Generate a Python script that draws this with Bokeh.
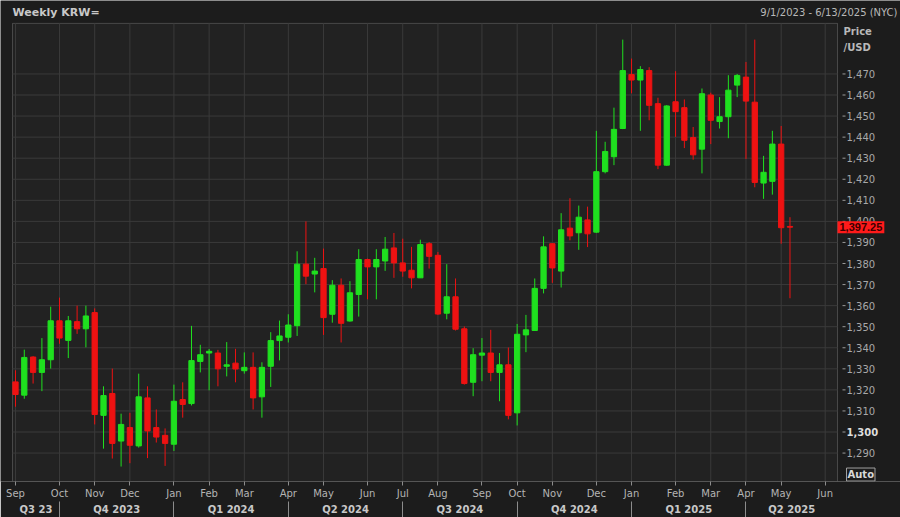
from bokeh.plotting import figure
from bokeh.models import (ColumnDataSource, FixedTicker, LinearAxis, Label, Range1d,
                          CustomJSTickFormatter, BoxAnnotation)
from bokeh.core.properties import value
from bokeh.embed import file_html
from bokeh.resources import INLINE

# ---- data (weekly USD/KRW candles, from week of 9/1/2023) ----
opens = [1323.8, 1317.5, 1335.6, 1328.3, 1334.3, 1352.8, 1343.5, 1352.4, 1349.0, 1356.7,
         1307.9, 1318.3, 1295.7, 1302.1, 1293.4, 1316.2, 1302.1, 1298.4, 1294.2, 1315.4,
         1313.5, 1333.5, 1337.5, 1337.5, 1331.2, 1332.7, 1329.1, 1330.7, 1316.7, 1331.2,
         1343.4, 1345.0, 1350.5, 1379.7, 1375.0, 1377.6, 1355.9, 1369.7, 1352.7, 1365.3,
         1381.9, 1378.4, 1381.2, 1387.4, 1380.3, 1376.8, 1373.2, 1389.4, 1383.9, 1356.4,
         1364.2, 1349.0, 1323.6, 1336.5, 1337.5, 1328.3, 1331.9, 1309.1, 1346.1, 1348.2,
         1368.2, 1389.4, 1376.4, 1396.8, 1394.6, 1400.7, 1394.9, 1423.6, 1430.7, 1444.1,
         1469.7, 1467.1, 1471.6, 1455.9, 1426.7, 1456.8, 1454.0, 1439.8, 1434.3, 1460.0,
         1447.4, 1449.7, 1464.7, 1468.5, 1456.6, 1418.2, 1419.0, 1436.7, 1397.6]
highs = [1329.3, 1339.1, 1336.0, 1344.6, 1359.5, 1363.8, 1355.1, 1360.0, 1360.0, 1358.7,
         1321.7, 1330.1, 1308.7, 1309.1, 1327.7, 1321.7, 1310.7, 1301.7, 1322.5, 1323.6,
         1350.4, 1341.4, 1339.4, 1339.0, 1342.7, 1339.5, 1337.8, 1337.8, 1333.1, 1347.4,
         1352.9, 1355.9, 1385.8, 1400.0, 1382.7, 1387.1, 1372.1, 1372.9, 1371.6, 1386.8,
         1382.3, 1386.8, 1392.6, 1394.5, 1391.8, 1387.9, 1391.3, 1390.2, 1385.5, 1379.7,
         1372.9, 1350.1, 1339.8, 1344.6, 1348.5, 1337.5, 1340.1, 1351.3, 1355.6, 1372.9,
         1392.9, 1389.6, 1403.9, 1411.0, 1407.5, 1407.0, 1443.0, 1437.8, 1454.0, 1486.3,
         1477.3, 1473.7, 1473.2, 1458.7, 1455.2, 1471.3, 1457.9, 1444.8, 1463.1, 1461.1,
         1459.0, 1469.4, 1470.0, 1475.7, 1486.3, 1431.1, 1443.0, 1445.3, 1402.0]
lows = [1312.0, 1315.8, 1323.0, 1319.4, 1330.1, 1341.9, 1335.1, 1346.6, 1340.2, 1303.6,
        1292.1, 1287.4, 1283.6, 1285.2, 1292.6, 1287.6, 1295.0, 1283.9, 1291.0, 1306.8,
        1312.6, 1328.3, 1319.8, 1321.7, 1326.4, 1323.6, 1327.7, 1310.7, 1306.8, 1321.4,
        1334.0, 1342.5, 1345.6, 1370.2, 1366.3, 1346.1, 1351.9, 1342.5, 1352.4, 1354.8,
        1363.0, 1363.0, 1376.5, 1373.2, 1373.7, 1368.2, 1373.2, 1377.6, 1355.6, 1353.5,
        1348.2, 1322.5, 1317.0, 1324.1, 1324.1, 1314.6, 1306.0, 1303.1, 1337.9, 1348.0,
        1365.8, 1370.8, 1368.6, 1391.0, 1386.5, 1387.8, 1394.5, 1422.8, 1426.7, 1443.8,
        1460.8, 1443.0, 1448.0, 1424.8, 1426.4, 1440.1, 1434.8, 1429.3, 1422.8, 1436.7,
        1444.1, 1439.5, 1459.0, 1429.6, 1416.2, 1410.7, 1412.7, 1389.4, 1363.5]
closes = [1317.8, 1335.4, 1328.3, 1334.3, 1352.8, 1344.6, 1352.8, 1349.0, 1355.1, 1308.3,
          1317.3, 1294.6, 1303.6, 1293.7, 1316.7, 1300.5, 1297.6, 1294.6, 1314.6, 1313.1,
          1333.9, 1336.7, 1338.3, 1330.0, 1331.9, 1329.9, 1330.7, 1316.2, 1330.7, 1343.4,
          1345.6, 1350.8, 1379.7, 1374.0, 1376.4, 1354.3, 1369.7, 1351.6, 1366.1, 1381.9,
          1378.4, 1381.9, 1386.8, 1380.3, 1376.4, 1373.2, 1389.0, 1383.4, 1356.0, 1364.2,
          1348.8, 1323.0, 1336.7, 1337.5, 1328.3, 1331.9, 1307.9, 1346.4, 1348.5, 1368.2,
          1387.9, 1377.9, 1396.0, 1393.1, 1402.0, 1394.1, 1423.6, 1433.2, 1443.7, 1471.6,
          1467.1, 1472.1, 1455.1, 1426.7, 1454.8, 1452.1, 1438.5, 1431.6, 1460.6, 1448.0,
          1449.7, 1462.3, 1469.3, 1457.1, 1418.5, 1423.3, 1436.7, 1397.0, 1397.25]

month_idx = [0, 5, 9, 13, 18, 22, 26, 31, 35, 40, 44, 48, 53, 57, 61, 66, 70, 75, 79, 83, 87, 92]
month_lbl = ["Sep", "Oct", "Nov", "Dec", "Jan", "Feb", "Mar", "Apr", "May", "Jun", "Jul",
             "Aug", "Sep", "Oct", "Nov", "Dec", "Jan", "Feb", "Mar", "Apr", "May", "Jun"]
quarter_lbl = ["Q3 23", "Q4 2023", "Q1 2024", "Q2 2024", "Q3 2024", "Q4 2024", "Q1 2025", "Q2 2025"]
quarter_start = [-9, 5, 18, 31, 44, 57, 70, 83]
quarter_end = [5, 18, 31, 44, 57, 70, 83, 96]
price_ticks = list(range(1290, 1471, 10))
bold_tick = 1300
last_price = 1397.25
title_left = "Weekly KRW="
title_right = "9/1/2023 - 6/13/2025 (NYC)"
unit_lbl = ["Price", "/USD"]

# chart window (data)
X0, X1 = -0.34, 93.4
Y0, Y1 = 1276.5, 1494.0

GREEN = "#1fe01f"
RED = "#ee1212"
FONT = "DejaVu Sans"
AXIS_TXT = "#a8a8a8"
BG = "#1c1c1c"

# ---- layout (pixels inside the figure) ----
W, H = 900, 517
BB = 34                      # bottom axes
CH_L, CH_R = 12, 837         # chart box left/right in frame px
CH_T, CH_B = 23, H - BB      # chart box top/bottom in frame px
u = (CH_R - CH_L) / (X1 - X0)        # px per week
v = (CH_B - CH_T) / (Y1 - Y0)        # px per KRW
XL, XR = X0 - CH_L / u, X1 + (W - CH_R) / u
YB, YT = Y0, Y1 + CH_T / v


def dx(px):
    return XL + px / u


def dy(py):
    return YT - py / v


n = len(opens)
xs = list(range(n))
cols = [GREEN if c >= o else RED for o, c in zip(opens, closes)]
src = ColumnDataSource(dict(
    x=xs, o=opens, h=highs, l=lows, c=closes,
    top=[max(o, c) for o, c in zip(opens, closes)],
    bot=[min(o, c) for o, c in zip(opens, closes)],
    col=cols))

p = figure(width=W, height=H, x_range=Range1d(XL, XR), y_range=Range1d(YB, YT),
           y_axis_location=None, output_backend="svg", toolbar_location=None, title=None,
           min_border_left=0, min_border_right=0, min_border_top=0, min_border_bottom=BB)
p.background_fill_color = BG
p.border_fill_color = BG
p.outline_line_color = None
for g in p.grid:
    g.visible = False

# chart box
p.add_layout(BoxAnnotation(left=X0, right=X1, bottom=Y0, top=Y1, fill_color="#222222",
                           fill_alpha=1.0, line_color="#a8a8a8", line_width=1,
                           level="underlay"))

# grid lines
p.segment(x0=month_idx, y0=[Y0] * len(month_idx), x1=month_idx, y1=[Y1] * len(month_idx),
          line_color="#3a3a3a", line_width=1)
p.segment(x0=[X0] * len(price_ticks), y0=price_ticks, x1=[X1] * len(price_ticks),
          y1=price_ticks, line_color="#3a3a3a", line_width=1)

# month axis
xa = p.xaxis[0]
xa.ticker = FixedTicker(ticks=month_idx, minor_ticks=[])
xa.formatter = CustomJSTickFormatter(args=dict(idx=month_idx, lbl=month_lbl), code="""
    for (let i = 0; i < idx.length; i++) { if (Math.abs(idx[i] - tick) < 1e-6) return lbl[i]; }
    return "";
""")
xa.axis_line_color = None
xa.major_tick_in = 0
xa.major_tick_out = 4
xa.major_tick_line_color = "#8c8c8c"
xa.minor_tick_line_color = None
xa.major_label_standoff = 2
xa.major_label_text_font = FONT
xa.major_label_text_font_size = "10px"
xa.major_label_text_color = "#b4b4b4"

# quarter axis
q_centers = [(max(s, X0) + min(e, X1)) / 2 for s, e in zip(quarter_start, quarter_end)]
q_seps = [s for s in quarter_start if X0 < s < X1]
qa = LinearAxis(ticker=FixedTicker(ticks=q_centers, minor_ticks=q_seps),
                formatter=CustomJSTickFormatter(args=dict(idx=q_centers, lbl=quarter_lbl), code="""
    for (let i = 0; i < idx.length; i++) { if (Math.abs(idx[i] - tick) < 1e-6) return lbl[i]; }
    return "";
"""))
qa.axis_line_color = None
qa.major_tick_in = 0
qa.major_tick_out = 0
qa.minor_tick_in = 0
qa.minor_tick_out = 16
qa.minor_tick_line_color = "#8c8c8c"
qa.major_label_standoff = -14
qa.major_label_text_font = FONT
qa.major_label_text_font_size = "10px"
qa.major_label_text_font_style = "bold"
qa.major_label_text_color = "#c8c8c8"
p.add_layout(qa, "below")

# price scale (right side)
ptxt = [f"{t:,}" for t in price_ticks]
pstyle = ["bold" if t == bold_tick else "normal" for t in price_ticks]
pcol = ["#dedede" if t == bold_tick else AXIS_TXT for t in price_ticks]
psrc = ColumnDataSource(dict(x=[X1] * len(price_ticks), y=price_ticks, t=ptxt, fs=pstyle, tc=pcol,
                             xa=[X1 + 5 / u] * len(price_ticks), xb=[X1 + 8 / u] * len(price_ticks)))
p.segment(x0="xa", y0="y", x1="xb", y1="y", line_color="#9a9a9a", line_width=1, source=psrc)
p.text(x="x", y="y", text="t", x_offset=9, text_baseline="middle", text_align="left",
       text_font=value(FONT), text_font_size="10px", text_font_style="fs", text_color="tc",
       source=psrc)

# candles
p.segment(x0="x", y0="l", x1="x", y1="h", color="col", line_width=1, source=src)
p.vbar(x="x", width=0.6, top="top", bottom="bot", fill_color="col", line_color="col",
       line_width=1, source=src)

# annotations
p.add_layout(Label(x=X1, y=last_price, x_offset=0, text=f"{last_price:,.2f}",
                   text_font="Liberation Sans", text_font_size="11px", text_font_style="bold",
                   text_color="#3a0000", text_baseline="middle",
                   background_fill_color="#ff1a1a", padding=2))
p.add_layout(Label(x=dx(CH_L), y=dy(12), text=title_left,
                   text_font=FONT, text_font_size="11px", text_font_style="bold",
                   text_color="#c8c8c8", text_baseline="middle"))
p.add_layout(Label(x=dx(W - 3), y=dy(12), text=title_right, text_font=FONT,
                   text_font_size="10px", text_color="#b8b8b8", text_baseline="middle",
                   text_align="right"))
p.add_layout(Label(x=dx(CH_R + 6), y=dy(31), text=unit_lbl[0],
                   text_font=FONT, text_font_size="10px", text_font_style="bold",
                   text_color="#b8b8b8", text_baseline="middle"))
p.add_layout(Label(x=dx(CH_R + 6), y=dy(47), text=unit_lbl[1],
                   text_font=FONT, text_font_size="10px", text_font_style="bold",
                   text_color="#b8b8b8", text_baseline="middle"))
p.add_layout(Label(x=dx(CH_R + 9), y=dy(CH_B - 7), text="Auto",
                   text_font=FONT, text_font_size="10px", text_font_style="bold",
                   text_color="#d8d8d8", text_baseline="middle",
                   border_line_color="#a0a0a0", background_fill_color=BG, padding=1))

open("out.html", "w").write(file_html(p, INLINE))
